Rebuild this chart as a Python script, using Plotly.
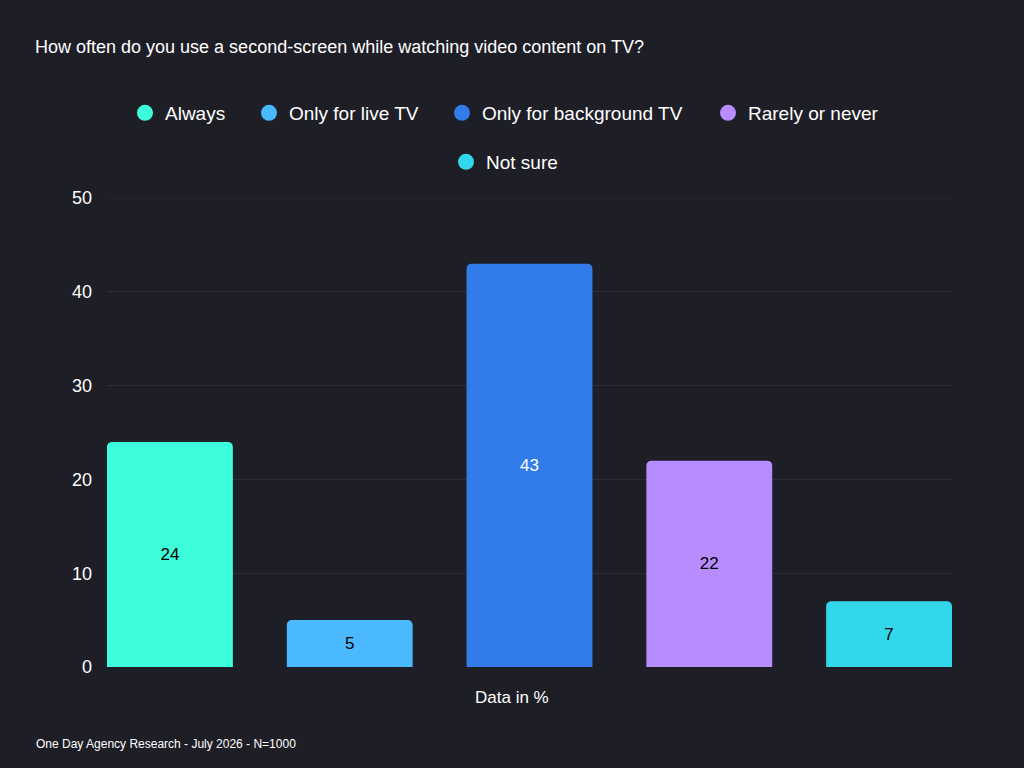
import plotly.graph_objects as go

categories = ["Always", "Only for live TV", "Only for background TV", "Rarely or never", "Not sure"]
values = [24, 5, 43, 22, 7]
colors = ["#3dfedb", "#4bb9ff", "#327ce9", "#b68cff", "#33d7eb"]
label_colors = ["#000000", "#000000", "#ffffff", "#000000", "#000000"]
y_ticks = [0, 10, 20, 30, 40, 50]

# legend item circle centres (px) and row (px from top)
legend_x = [145, 269, 462, 728, 466]
legend_y = [113, 113, 113, 113, 162]

BG = "#1e1e27"
GRID = "#2d2d37"
FONT = "Liberation Sans, Arial, sans-serif"
W, H = 1024, 768

fig = go.Figure()
legend_layouts = {}
for i, (name, v, c) in enumerate(zip(categories, values, colors)):
    lid = "legend" if i == 0 else f"legend{i+1}"
    fig.add_trace(go.Bar(
        x=[i], y=[v], width=0.7, marker=dict(color=c, line=dict(width=0)),
        text=[str(v)], textposition="inside", insidetextanchor="middle",
        textfont=dict(color=label_colors[i], size=17, family=FONT),
        showlegend=False, hoverinfo="skip", name=name,
    ))
    fig.add_trace(go.Scatter(
        x=[None], y=[None], mode="markers", name=name,
        marker=dict(symbol="circle", size=18, color=c),
        legend=lid,
    ))
    legend_layouts[lid] = dict(
        orientation="h", x=(legend_x[i] - 20) / W, xanchor="left", xref="container",
        y=1 - legend_y[i] / H, yanchor="middle", yref="container",
        font=dict(size=19, color="#ffffff", family=FONT),
        bgcolor="rgba(0,0,0,0)", itemclick=False, itemdoubleclick=False,
    )

fig.update_layout(
    width=W, height=H,
    paper_bgcolor=BG, plot_bgcolor=BG,
    margin=dict(l=107, r=72, t=198, b=101, autoexpand=False),
    barmode="overlay",
    barcornerradius=5,
    font=dict(family=FONT, color="#ffffff"),
    title=dict(text="How often do you use a second-screen while watching video content on TV?",
               x=35 / W, xanchor="left", y=1 - 47 / H, yanchor="middle",
               font=dict(size=18, color="#ffffff", family=FONT)),
    xaxis=dict(range=[-0.35, 4.35], showticklabels=False, showgrid=False, zeroline=False,
               showline=False, ticks=""),
    yaxis=dict(range=[0, 50], tickvals=y_ticks, showgrid=True, gridcolor=GRID, gridwidth=1,
               zeroline=False, showline=False, ticks="", ticklabelstandoff=14,
               tickfont=dict(size=18, color="#ffffff", family=FONT)),
    shapes=[dict(type="line", xref="paper", yref="y", x0=0, x1=1, y0=y_ticks[-1], y1=y_ticks[-1],
                 line=dict(color=GRID, width=1), layer="below")],
    annotations=[
        dict(text="Data in %", x=(512 - 107) / 845, y=(667 - 697) / 469, xref="paper", yref="paper",
             xanchor="center", yanchor="middle", showarrow=False,
             font=dict(size=17, color="#ffffff", family=FONT)),
        dict(text="One Day Agency Research - July 2026 - N=1000",
             x=(34 - 107) / 845, y=(667 - 744) / 469, xref="paper", yref="paper",
             xanchor="left", yanchor="middle", showarrow=False,
             font=dict(size=12, color="#ffffff", family=FONT)),
    ],
    **legend_layouts,
)

fig.write_html("out.html")
